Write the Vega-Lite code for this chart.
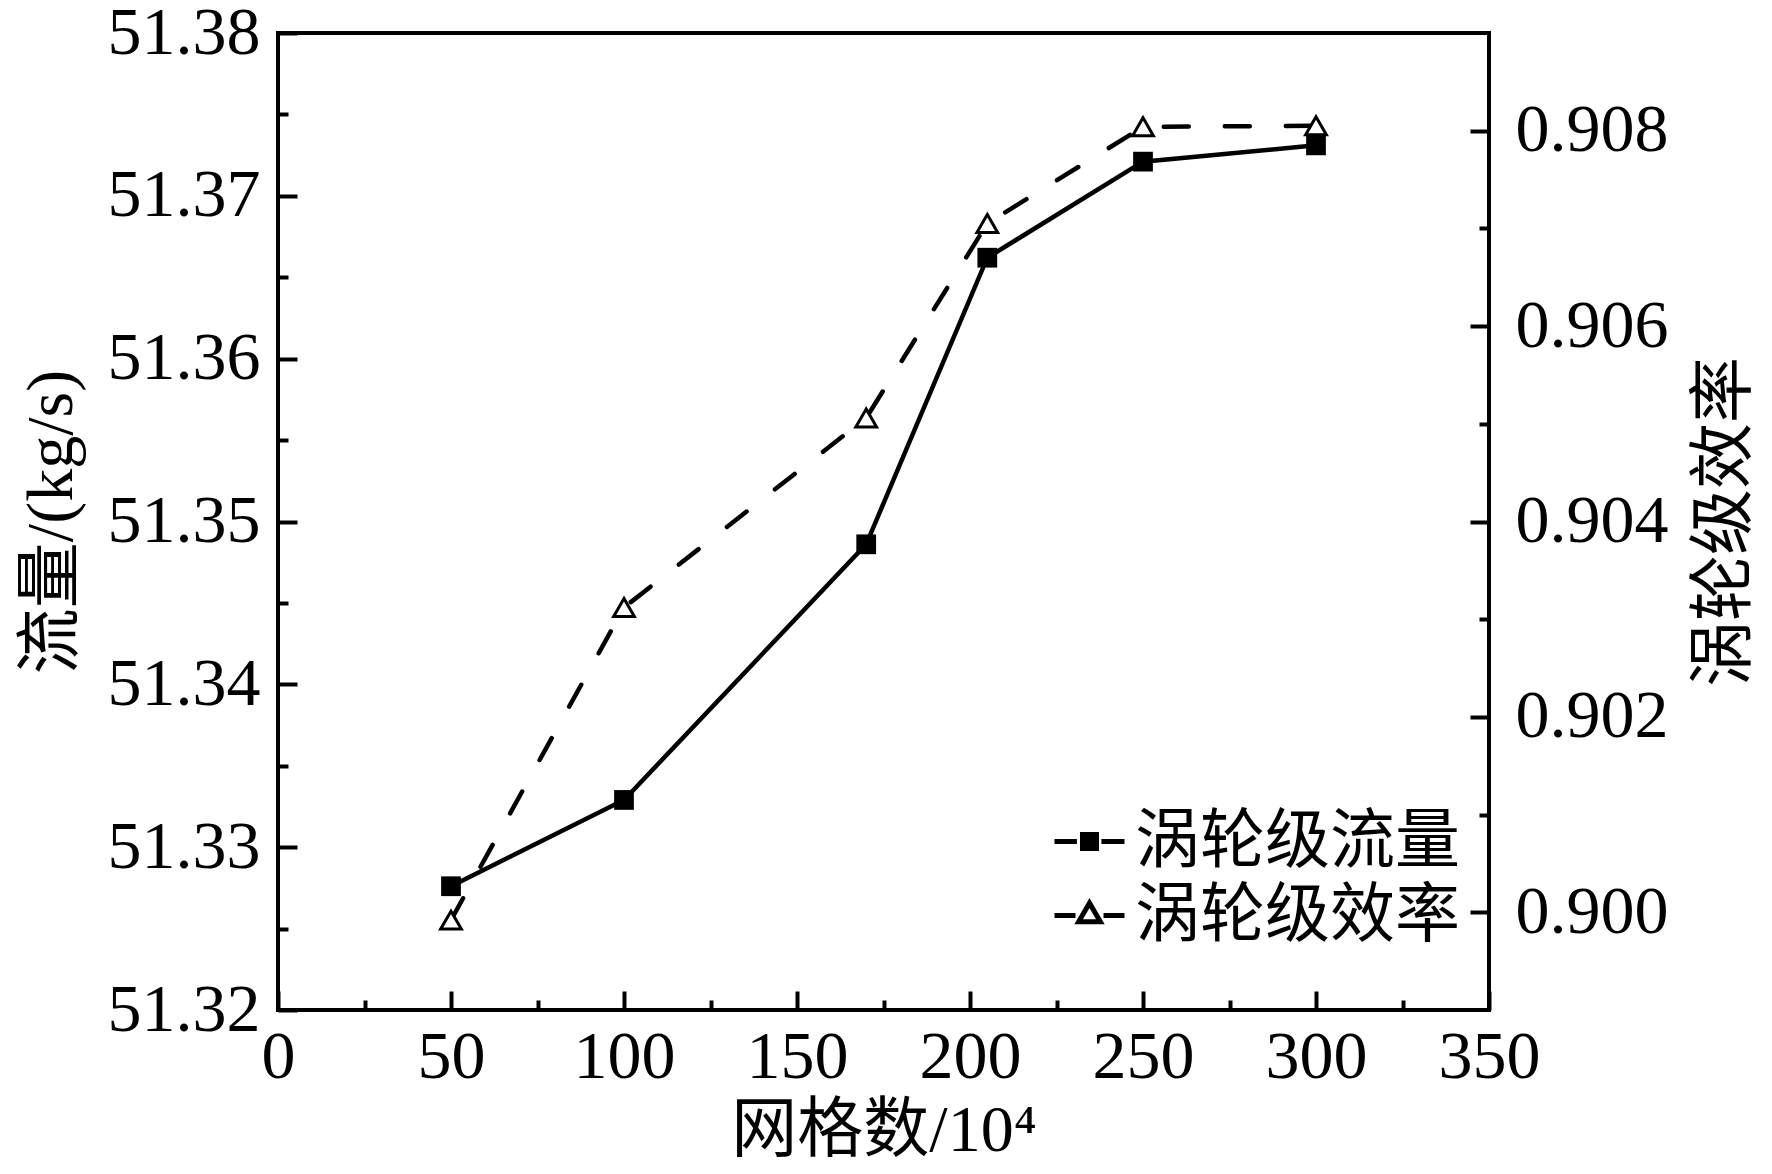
{
  "$schema": "https://vega.github.io/schema/vega-lite/v6.json",
  "autosize": "none",
  "width": 1211,
  "height": 977,
  "padding": {"left": 278, "top": 33, "right": 283, "bottom": 164},
  "background": "white",
  "data": {
    "values": [
      {"grid": 50, "series": "涡轮级流量", "value": 51.3276},
      {"grid": 100, "series": "涡轮级流量", "value": 51.3329},
      {"grid": 170, "series": "涡轮级流量", "value": 51.3486},
      {"grid": 205, "series": "涡轮级流量", "value": 51.3662},
      {"grid": 250, "series": "涡轮级流量", "value": 51.3721},
      {"grid": 300, "series": "涡轮级流量", "value": 51.3731},
      {"grid": 50, "series": "涡轮级效率", "value": 0.89992},
      {"grid": 100, "series": "涡轮级效率", "value": 0.90312},
      {"grid": 170, "series": "涡轮级效率", "value": 0.90506},
      {"grid": 205, "series": "涡轮级效率", "value": 0.90705},
      {"grid": 250, "series": "涡轮级效率", "value": 0.90804},
      {"grid": 300, "series": "涡轮级效率", "value": 0.90805}
    ]
  },
  "layer": [
    {
      "transform": [{"filter": "datum.series === '涡轮级流量'"}],
      "mark": {"type": "line", "color": "black", "strokeWidth": 4.5},
      "encoding": {
        "x": {"field": "grid", "type": "quantitative",
          "scale": {"domain": [0, 350], "nice": false, "zero": false},
          "axis": {"orient": "bottom", "values": [0, 50, 100, 150, 200, 250, 300, 350], "tickSize": -19, "labelPadding": 32, "title": "网格数/10⁴", "titlePadding": 7}},
        "y": {"field": "value", "type": "quantitative",
          "scale": {"domain": [51.32, 51.38], "nice": false, "zero": false},
          "axis": {"orient": "left", "values": [51.32, 51.33, 51.34, 51.35, 51.36, 51.37, 51.38], "format": ".2f", "tickSize": -19, "labelPadding": 37, "title": "流量/(kg/s)", "titlePadding": 22}}
      }
    },
    {
      "transform": [{"filter": "datum.series === '涡轮级效率'"}],
      "mark": {"type": "line", "color": "black", "strokeWidth": 4.5, "strokeDash": [25, 36], "strokeCap": "round"},
      "encoding": {
        "x": {"field": "grid", "type": "quantitative", "axis": null},
        "y": {"field": "value", "type": "quantitative",
          "scale": {"domain": [0.899, 0.909], "nice": false, "zero": false},
          "axis": {"orient": "right", "values": [0.9, 0.902, 0.904, 0.906, 0.908], "format": ".3f", "tickSize": -19, "labelPadding": 45, "title": "涡轮级效率", "titleAngle": 270, "titleBaseline": "top", "titlePadding": 24}}
      }
    },
    {
      "transform": [{"filter": "datum.series === '涡轮级流量'"}],
      "mark": {"type": "point", "shape": "square", "filled": true, "color": "black", "size": 390, "opacity": 1},
      "encoding": {
        "x": {"field": "grid", "type": "quantitative", "axis": null},
        "y": {"field": "value", "type": "quantitative",
          "scale": {"domain": [51.32, 51.38], "nice": false, "zero": false}, "axis": null}
      }
    },
    {
      "transform": [{"filter": "datum.series === '涡轮级效率'"}],
      "mark": {"type": "point", "shape": "triangle-up", "filled": true, "fill": "white", "stroke": "black", "strokeWidth": 3, "size": 430, "opacity": 1},
      "encoding": {
        "x": {"field": "grid", "type": "quantitative", "axis": null},
        "y": {"field": "value", "type": "quantitative",
          "scale": {"domain": [0.899, 0.909], "nice": false, "zero": false}, "axis": null}
      }
    },
    {
      "transform": [{"filter": "datum.series === '涡轮级流量'"}],
      "mark": {"type": "point", "opacity": 0},
      "encoding": {
        "x": {"field": "grid", "type": "quantitative",
          "axis": {"orient": "bottom", "values": [25, 75, 125, 175, 225, 275, 325], "tickSize": -10, "labels": false, "title": null}},
        "y": {"field": "value", "type": "quantitative",
          "scale": {"domain": [51.32, 51.38], "nice": false, "zero": false},
          "axis": {"orient": "left", "values": [51.325, 51.335, 51.345, 51.355, 51.365, 51.375], "tickSize": -10, "labels": false, "title": null}}
      }
    },
    {
      "transform": [{"filter": "datum.series === '涡轮级效率'"}],
      "mark": {"type": "point", "opacity": 0},
      "encoding": {
        "x": {"field": "grid", "type": "quantitative", "axis": null},
        "y": {"field": "value", "type": "quantitative",
          "scale": {"domain": [0.899, 0.909], "nice": false, "zero": false},
          "axis": {"orient": "right", "values": [0.901, 0.903, 0.905, 0.907], "tickSize": -10, "labels": false, "title": null}}
      }
    },
    {
      "mark": {"type": "point", "filled": true, "opacity": 0, "stroke": "black", "strokeWidth": 5},
      "encoding": {
        "x": {"field": "grid", "type": "quantitative", "axis": null},
        "y": {"field": "value", "type": "quantitative", "scale": {"zero": false}, "axis": null},
        "shape": {"field": "series", "type": "nominal",
          "scale": {"domain": ["涡轮级流量", "涡轮级效率"],
            "range": ["M-1,0H-0.36M0.34,0H1M-0.2,-0.2H0.2V0.2H-0.2Z", "M-1,0H-0.4M0.4,0H1M0,-0.36L0.31,0.18L-0.31,0.18Z"]},
          "legend": {"title": null, "orient": "none", "legendX": 774, "legendY": 771,
            "encode": {"symbols": {"update": {"stroke": {"value": "black"}, "strokeWidth": {"value": 5}, "opacity": {"value": 1}}}}}},
        "fill": {"field": "series", "type": "nominal",
          "scale": {"domain": ["涡轮级流量", "涡轮级效率"], "range": ["black", "white"]},
          "legend": {"title": null, "orient": "none", "legendX": 774, "legendY": 771,
            "encode": {"symbols": {"update": {"stroke": {"value": "black"}, "strokeWidth": {"value": 5}, "opacity": {"value": 1}}}}}}
      }
    }
  ],
  "resolve": {"scale": {"y": "independent"}, "axis": {"x": "independent", "y": "independent"}},
  "config": {
    "view": {"stroke": "black", "strokeWidth": 4},
    "axis": {
      "domain": false, "grid": false,
      "labelFont": "Liberation Serif", "labelFontSize": 68, "labelColor": "black",
      "labelFlush": false, "labelOverlap": false,
      "tickColor": "black", "tickWidth": 4,
      "titleFont": "Liberation Serif, Noto Sans CJK SC", "titleFontSize": 66, "titleFontWeight": "normal", "titleColor": "black"
    },
    "legend": {
      "labelFont": "Liberation Serif, Noto Sans CJK SC", "labelFontSize": 65, "labelColor": "black", "labelLimit": 0,
      "symbolStrokeColor": "black", "symbolStrokeWidth": 5, "symbolSize": 4900,
      "symbolOpacity": 1, "labelOffset": 8, "rowPadding": 3, "padding": 0
    }
  }
}
